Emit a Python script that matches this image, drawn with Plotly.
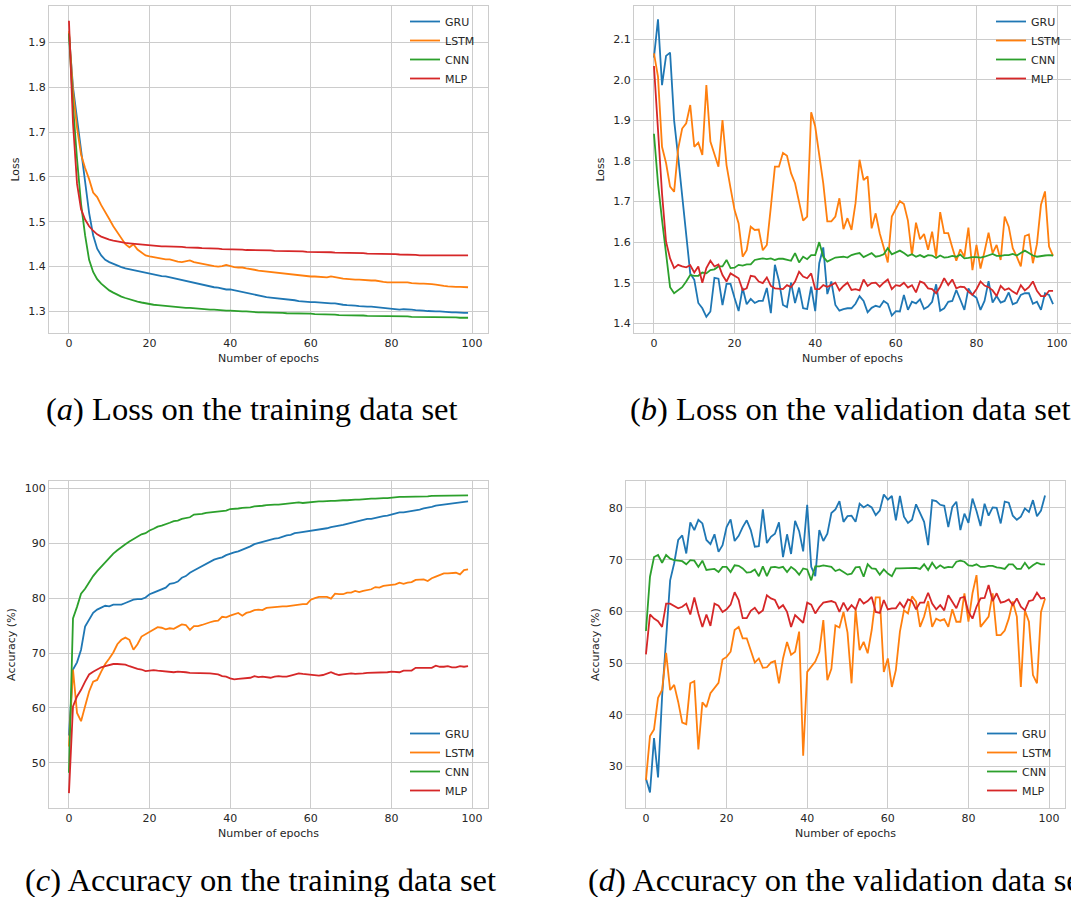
import plotly.graph_objects as go

epochs = list(range(100))
series_names = ["GRU", "LSTM", "CNN", "MLP"]
series_colors = ["#1f77b4", "#ff7f0e", "#2ca02c", "#d62728"]

# (a) training loss
gru_train_loss = [1.920, 1.800, 1.730, 1.660, 1.590, 1.520, 1.470, 1.440, 1.425, 1.415,
                  1.410, 1.406, 1.402, 1.399, 1.396, 1.394, 1.392, 1.390, 1.389, 1.387,
                  1.385, 1.383, 1.381, 1.379, 1.378, 1.376, 1.374, 1.372, 1.370, 1.367,
                  1.365, 1.364, 1.362, 1.360, 1.357, 1.355, 1.354, 1.353, 1.351, 1.349,
                  1.349, 1.347, 1.345, 1.343, 1.341, 1.340, 1.338, 1.336, 1.334, 1.332,
                  1.331, 1.330, 1.330, 1.328, 1.327, 1.326, 1.325, 1.323, 1.322, 1.322,
                  1.321, 1.321, 1.320, 1.319, 1.318, 1.318, 1.318, 1.316, 1.315, 1.314,
                  1.314, 1.313, 1.312, 1.311, 1.311, 1.311, 1.310, 1.309, 1.308, 1.307,
                  1.306, 1.305, 1.304, 1.305, 1.305, 1.304, 1.303, 1.303, 1.302, 1.301,
                  1.300, 1.300, 1.300, 1.299, 1.299, 1.298, 1.298, 1.297, 1.297, 1.297]
lstm_train_loss = [1.925, 1.790, 1.710, 1.650, 1.620, 1.595, 1.565, 1.555, 1.537, 1.520,
                   1.506, 1.490, 1.476, 1.465, 1.450, 1.443, 1.450, 1.438, 1.432, 1.425,
                   1.423, 1.421, 1.419, 1.417, 1.416, 1.416, 1.413, 1.411, 1.410, 1.412,
                   1.414, 1.410, 1.408, 1.406, 1.404, 1.402, 1.401, 1.400, 1.401, 1.404,
                   1.401, 1.399, 1.398, 1.398, 1.396, 1.395, 1.393, 1.391, 1.390, 1.389,
                   1.387, 1.386, 1.386, 1.385, 1.384, 1.382, 1.381, 1.380, 1.379, 1.378,
                   1.378, 1.378, 1.377, 1.377, 1.376, 1.378, 1.377, 1.375, 1.373, 1.372,
                   1.372, 1.371, 1.371, 1.370, 1.370, 1.369, 1.369, 1.367, 1.366, 1.365,
                   1.365, 1.365, 1.366, 1.366, 1.365, 1.363, 1.362, 1.362, 1.362, 1.362,
                   1.361, 1.360, 1.358, 1.357, 1.356, 1.355, 1.355, 1.355, 1.354, 1.354]
cnn_train_loss = [1.920, 1.760, 1.640, 1.540, 1.470, 1.415, 1.388, 1.372, 1.362, 1.354,
                  1.347, 1.342, 1.337, 1.333, 1.330, 1.327, 1.325, 1.322, 1.320, 1.318,
                  1.317, 1.315, 1.314, 1.313, 1.312, 1.311, 1.311, 1.310, 1.309, 1.308,
                  1.308, 1.307, 1.306, 1.305, 1.305, 1.304, 1.304, 1.303, 1.303, 1.302,
                  1.302, 1.301, 1.301, 1.300, 1.300, 1.299, 1.299, 1.298, 1.298, 1.298,
                  1.297, 1.297, 1.297, 1.297, 1.296, 1.296, 1.296, 1.295, 1.295, 1.295,
                  1.295, 1.294, 1.294, 1.294, 1.293, 1.293, 1.293, 1.292, 1.292, 1.292,
                  1.292, 1.291, 1.291, 1.291, 1.290, 1.290, 1.290, 1.290, 1.290, 1.289,
                  1.289, 1.289, 1.289, 1.289, 1.289, 1.288, 1.288, 1.288, 1.288, 1.288,
                  1.288, 1.287, 1.287, 1.287, 1.287, 1.287, 1.287, 1.286, 1.286, 1.286]
mlp_train_loss = [1.948, 1.720, 1.585, 1.528, 1.505, 1.490, 1.480, 1.472, 1.467, 1.463,
                  1.460, 1.458, 1.456, 1.454, 1.453, 1.452, 1.451, 1.450, 1.449, 1.448,
                  1.447, 1.446, 1.446, 1.445, 1.445, 1.445, 1.444, 1.444, 1.444, 1.443,
                  1.443, 1.442, 1.442, 1.441, 1.441, 1.441, 1.440, 1.440, 1.439, 1.439,
                  1.439, 1.438, 1.438, 1.438, 1.437, 1.437, 1.437, 1.436, 1.436, 1.436,
                  1.436, 1.435, 1.435, 1.435, 1.435, 1.434, 1.434, 1.434, 1.434, 1.433,
                  1.433, 1.433, 1.433, 1.432, 1.432, 1.432, 1.431, 1.431, 1.431, 1.431,
                  1.431, 1.430, 1.430, 1.430, 1.429, 1.429, 1.428, 1.428, 1.428, 1.428,
                  1.428, 1.428, 1.427, 1.427, 1.427, 1.426, 1.426, 1.425, 1.425, 1.425,
                  1.425, 1.425, 1.425, 1.425, 1.426, 1.426, 1.426, 1.426, 1.425, 1.425]

# (b) validation loss
gru_val_loss = [2.055, 2.149, 1.987, 2.059, 2.067, 1.900, 1.810, 1.712, 1.613, 1.523,
                1.507, 1.450, 1.437, 1.416, 1.429, 1.512, 1.510, 1.445, 1.497, 1.497,
                1.462, 1.430, 1.487, 1.447, 1.460, 1.450, 1.455, 1.455, 1.487, 1.425,
                1.544, 1.505, 1.445, 1.440, 1.500, 1.450, 1.488, 1.437, 1.435, 1.490,
                1.430, 1.548, 1.587, 1.472, 1.503, 1.445, 1.431, 1.435, 1.437, 1.437,
                1.448, 1.467, 1.455, 1.427, 1.438, 1.443, 1.440, 1.455, 1.448, 1.419,
                1.430, 1.429, 1.470, 1.433, 1.453, 1.449, 1.459, 1.435, 1.441, 1.453,
                1.496, 1.431, 1.437, 1.453, 1.455, 1.482, 1.458, 1.433, 1.486, 1.470,
                1.463, 1.433, 1.455, 1.504, 1.451, 1.467, 1.451, 1.455, 1.476, 1.447,
                1.451, 1.470, 1.474, 1.474, 1.448, 1.453, 1.433, 1.474, 1.470, 1.447]
lstm_val_loss = [2.065, 2.008, 1.835, 1.795, 1.737, 1.724, 1.830, 1.880, 1.893, 1.938,
                 1.835, 1.845, 1.815, 1.987, 1.848, 1.817, 1.786, 1.901, 1.790, 1.733,
                 1.679, 1.646, 1.564, 1.580, 1.638, 1.630, 1.631, 1.580, 1.593, 1.687,
                 1.786, 1.786, 1.820, 1.813, 1.770, 1.745, 1.696, 1.653, 1.663, 1.920,
                 1.885, 1.819, 1.745, 1.651, 1.651, 1.663, 1.708, 1.632, 1.659, 1.630,
                 1.696, 1.803, 1.753, 1.762, 1.634, 1.671, 1.622, 1.587, 1.550, 1.663,
                 1.681, 1.701, 1.694, 1.653, 1.568, 1.648, 1.607, 1.620, 1.581, 1.626,
                 1.564, 1.674, 1.622, 1.622, 1.587, 1.554, 1.582, 1.564, 1.636, 1.531,
                 1.593, 1.535, 1.577, 1.623, 1.573, 1.593, 1.556, 1.663, 1.638, 1.585,
                 1.564, 1.540, 1.615, 1.619, 1.548, 1.595, 1.692, 1.725, 1.589, 1.566]
cnn_val_loss = [1.867, 1.745, 1.655, 1.564, 1.489, 1.474, 1.482, 1.489, 1.503, 1.519,
                1.517, 1.517, 1.525, 1.523, 1.531, 1.533, 1.540, 1.540, 1.556, 1.536,
                1.537, 1.544, 1.542, 1.545, 1.545, 1.556, 1.558, 1.560, 1.558, 1.560,
                1.556, 1.559, 1.559, 1.556, 1.554, 1.573, 1.550, 1.564, 1.558, 1.568,
                1.568, 1.600, 1.564, 1.552, 1.558, 1.562, 1.563, 1.564, 1.562, 1.568,
                1.571, 1.573, 1.563, 1.568, 1.573, 1.564, 1.566, 1.570, 1.585, 1.570,
                1.575, 1.579, 1.573, 1.566, 1.570, 1.564, 1.568, 1.563, 1.568, 1.567,
                1.561, 1.567, 1.562, 1.563, 1.566, 1.564, 1.569, 1.560, 1.561, 1.563,
                1.563, 1.562, 1.564, 1.567, 1.571, 1.566, 1.566, 1.568, 1.568, 1.571,
                1.567, 1.573, 1.579, 1.573, 1.567, 1.564, 1.566, 1.567, 1.568, 1.567]
mlp_val_loss = [2.034, 1.885, 1.720, 1.601, 1.560, 1.536, 1.544, 1.540, 1.538, 1.543,
                1.525, 1.540, 1.500, 1.536, 1.554, 1.540, 1.545, 1.519, 1.503, 1.523,
                1.517, 1.511, 1.482, 1.486, 1.517, 1.515, 1.503, 1.499, 1.513, 1.492,
                1.486, 1.485, 1.484, 1.494, 1.489, 1.503, 1.527, 1.515, 1.511, 1.523,
                1.484, 1.484, 1.494, 1.490, 1.494, 1.500, 1.481, 1.492, 1.500, 1.482,
                1.484, 1.481, 1.508, 1.492, 1.499, 1.500, 1.490, 1.500, 1.508, 1.484,
                1.494, 1.492, 1.500, 1.488, 1.494, 1.476, 1.503, 1.499, 1.486, 1.484,
                1.474, 1.490, 1.511, 1.494, 1.508, 1.486, 1.490, 1.489, 1.478, 1.470,
                1.484, 1.503, 1.493, 1.489, 1.481, 1.467, 1.492, 1.482, 1.486, 1.478,
                1.472, 1.494, 1.481, 1.489, 1.503, 1.480, 1.467, 1.467, 1.480, 1.480]

# (c) training accuracy
gru_train_acc = [55.0, 67.0, 68.3, 70.6, 74.8, 76.0, 77.3, 77.9, 78.2, 78.6,
                 78.5, 78.8, 78.8, 78.8, 79.1, 79.4, 79.7, 79.8, 79.8, 80.1,
                 80.7, 81.0, 81.3, 81.7, 81.9, 82.6, 82.7, 83.0, 83.7, 84.0,
                 84.6, 85.0, 85.4, 85.7, 86.1, 86.5, 87.0, 87.2, 87.4, 87.8,
                 88.1, 88.3, 88.5, 88.8, 89.0, 89.4, 89.8, 90.0, 90.3, 90.5,
                 90.6, 90.8, 90.9, 91.2, 91.4, 91.5, 91.8, 91.9, 92.0, 92.1,
                 92.2, 92.3, 92.4, 92.6, 92.7, 92.9, 93.0, 93.1, 93.3, 93.5,
                 93.7, 93.9, 94.1, 94.3, 94.4, 94.4, 94.6, 94.7, 94.9, 95.0,
                 95.2, 95.4, 95.6, 95.6, 95.7, 95.8, 96.0, 96.1, 96.3, 96.4,
                 96.6, 96.8, 96.9, 97.0, 97.1, 97.2, 97.3, 97.4, 97.5, 97.6]
lstm_train_acc = [53.0, 67.0, 59.1, 57.6, 60.3, 63.0, 64.8, 65.1, 66.6, 68.0,
                  69.0, 70.1, 71.6, 72.4, 72.8, 72.4, 70.6, 71.6, 73.0, 73.4,
                  73.9, 74.3, 74.7, 74.6, 74.3, 74.5, 74.4, 74.8, 75.2, 75.1,
                  74.2, 74.9, 74.9, 75.1, 75.4, 75.6, 75.8, 75.9, 76.6, 76.5,
                  76.8, 77.0, 77.3, 76.8, 77.3, 77.5, 77.8, 77.9, 77.8, 78.2,
                  78.3, 78.3, 78.5, 78.5, 78.5, 78.6, 78.8, 78.9, 78.9, 78.9,
                  79.7, 80.0, 80.2, 80.2, 80.2, 79.9, 80.8, 80.7, 80.7, 81.0,
                  81.0, 81.3, 81.1, 81.3, 81.4, 81.6, 82.0, 81.9, 82.2, 82.3,
                  82.3, 82.5, 82.8, 82.6, 82.8, 82.9, 83.3, 83.4, 83.4, 83.1,
                  83.6, 83.9, 84.2, 84.5, 84.5, 84.6, 84.6, 84.3, 85.1, 85.2]
cnn_train_acc = [48.2, 76.3, 78.4, 80.8, 81.7, 82.9, 84.0, 84.9, 85.7, 86.4,
                 87.3, 88.1, 88.7, 89.3, 89.8, 90.3, 90.7, 91.1, 91.6, 91.8,
                 92.3, 92.6, 93.0, 93.2, 93.4, 93.7, 94.0, 94.1, 94.4, 94.6,
                 94.7, 95.2, 95.2, 95.3, 95.5, 95.6, 95.7, 95.8, 95.9, 95.9,
                 96.2, 96.2, 96.3, 96.4, 96.4, 96.5, 96.7, 96.7, 96.8, 96.9,
                 97.0, 97.0, 97.0, 97.1, 97.1, 97.2, 97.3, 97.4, 97.3, 97.4,
                 97.5, 97.5, 97.6, 97.6, 97.7, 97.7, 97.7, 97.8, 97.8, 97.8,
                 97.9, 97.9, 97.9, 98.0, 98.1, 98.1, 98.1, 98.2, 98.2, 98.2,
                 98.3, 98.3, 98.4, 98.4, 98.4, 98.4, 98.4, 98.4, 98.5, 98.5,
                 98.6, 98.6, 98.6, 98.6, 98.6, 98.6, 98.7, 98.7, 98.7, 98.7]
mlp_train_acc = [44.5, 60.3, 62.1, 63.3, 64.8, 66.1, 66.6, 67.0, 67.4, 67.6,
                 67.8, 68.0, 68.0, 68.0, 67.9, 67.6, 67.3, 67.1, 67.0, 66.7,
                 66.8, 66.9, 66.8, 66.7, 66.6, 66.5, 66.5, 66.6, 66.6, 66.5,
                 66.4, 66.4, 66.4, 66.4, 66.4, 66.3, 66.2, 66.1, 65.8, 65.7,
                 65.4, 65.2, 65.3, 65.4, 65.4, 65.5, 65.8, 65.6, 65.7, 65.6,
                 65.5, 65.7, 65.8, 65.7, 65.7, 65.9, 66.1, 66.3, 66.2, 66.1,
                 66.0, 65.9, 65.9, 66.0, 66.3, 66.5, 66.2, 66.0, 66.1, 66.2,
                 66.3, 66.2, 66.2, 66.3, 66.4, 66.4, 66.4, 66.5, 66.4, 66.5,
                 66.6, 66.6, 66.5, 66.8, 66.8, 66.8, 67.3, 67.3, 67.3, 67.2,
                 67.3, 67.7, 67.5, 67.5, 67.6, 67.4, 67.4, 67.6, 67.5, 67.6]

# (d) validation accuracy
gru_val_acc = [27.7, 25.0, 35.5, 27.9, 43.5, 54.5, 66.0, 69.3, 73.8, 74.7,
               71.2, 77.2, 75.7, 77.7, 77.0, 73.8, 73.0, 74.9, 71.5, 72.8,
               76.3, 77.8, 73.6, 74.6, 76.3, 77.6, 75.7, 72.5, 72.6, 79.7,
               73.2, 74.4, 75.0, 77.2, 70.5, 74.9, 71.1, 77.5, 75.5, 71.6,
               80.6, 68.6, 66.8, 75.7, 73.6, 75.0, 79.0, 79.7, 81.3, 77.3,
               78.4, 78.5, 77.3, 80.8, 80.1, 80.6, 80.1, 78.6, 79.5, 82.6,
               81.6, 82.3, 77.6, 82.3, 78.3, 77.1, 77.7, 80.7, 78.9, 77.3,
               72.8, 81.5, 81.3, 80.6, 80.4, 76.3, 80.2, 81.2, 75.7, 78.9,
               77.1, 81.8, 79.4, 76.5, 80.8, 78.5, 80.1, 80.0, 77.0, 81.2,
               81.0, 78.5, 77.7, 78.3, 79.9, 79.2, 81.5, 78.4, 79.5, 82.4]
lstm_val_acc = [27.4, 35.9, 37.2, 43.3, 44.8, 52.0, 44.8, 45.8, 42.5, 38.5,
                38.2, 46.1, 46.5, 33.3, 42.4, 41.5, 44.2, 45.1, 46.2, 50.7,
                51.2, 52.2, 56.4, 57.0, 54.8, 54.8, 52.2, 50.1, 50.9, 49.1,
                49.2, 50.1, 50.4, 46.1, 50.9, 54.1, 51.6, 52.2, 56.1, 32.1,
                48.3, 49.2, 50.3, 52.2, 58.3, 46.7, 48.9, 57.3, 56.9, 59.9,
                55.9, 46.1, 60.4, 52.5, 54.1, 51.9, 56.4, 62.7, 62.7, 48.3,
                50.9, 45.4, 48.7, 56.1, 60.2, 59.6, 62.9, 61.9, 57.0, 59.0,
                62.0, 57.0, 58.6, 58.2, 58.5, 57.0, 60.4, 58.0, 58.0, 63.5,
                58.0, 63.5, 67.0, 57.0, 58.0, 59.0, 63.5, 55.4, 55.4, 56.3,
                58.6, 61.9, 59.0, 45.4, 60.2, 58.0, 47.7, 46.1, 59.9, 62.5]
cnn_val_acc = [56.2, 66.7, 70.5, 70.9, 69.4, 70.9, 70.2, 69.9, 69.8, 69.7,
               69.1, 69.9, 69.8, 68.6, 69.8, 68.0, 68.1, 68.2, 67.6, 68.6,
               68.6, 67.6, 68.9, 68.8, 68.3, 67.5, 67.6, 68.1, 66.8, 68.7,
               66.8, 68.5, 68.6, 68.4, 68.6, 67.6, 68.6, 68.0, 67.1, 68.3,
               68.1, 66.0, 68.7, 68.7, 68.9, 68.7, 68.6, 67.8, 68.1, 67.6,
               67.1, 67.3, 68.5, 68.6, 66.7, 69.1, 68.3, 68.2, 67.1, 68.1,
               67.3, 66.8, 68.3, 68.3, 68.3, 68.4, 68.4, 68.4, 68.2, 69.1,
               68.0, 69.4, 68.3, 68.9, 68.4, 68.6, 68.5, 69.6, 69.8, 69.6,
               68.9, 68.8, 69.1, 68.6, 68.6, 68.8, 68.8, 68.5, 68.4, 68.2,
               69.1, 69.1, 68.2, 68.2, 69.4, 68.3, 68.9, 69.4, 69.1, 69.1]
mlp_val_acc = [51.7, 59.4, 58.6, 58.1, 57.0, 61.5, 61.5, 61.1, 60.6, 60.9,
               61.5, 59.4, 62.7, 59.6, 57.0, 59.4, 57.2, 61.5, 61.1, 59.9,
               60.4, 61.3, 63.7, 62.2, 58.7, 58.7, 60.1, 60.7, 59.6, 60.2,
               63.1, 62.5, 62.2, 60.6, 61.2, 59.9, 57.0, 59.3, 58.6, 57.8,
               61.7, 61.3, 59.6, 60.8, 61.7, 61.9, 62.0, 61.7, 59.9, 61.7,
               60.2, 61.2, 60.4, 62.5, 61.5, 62.0, 62.8, 59.9, 59.7, 62.2,
               60.4, 60.6, 60.6, 61.7, 60.7, 62.3, 62.0, 60.4, 61.7, 61.7,
               63.6, 61.5, 60.4, 61.2, 60.2, 63.1, 61.9, 60.6, 62.6, 62.8,
               59.9, 58.6, 60.9, 62.5, 62.6, 65.1, 62.0, 63.5, 61.7, 61.9,
               62.3, 61.2, 62.5, 60.9, 60.2, 62.0, 62.2, 63.6, 62.5, 62.6]

panels = [
    ([gru_train_loss, lstm_train_loss, cnn_train_loss, mlp_train_loss], "x", "y", "legend"),
    ([gru_val_loss, lstm_val_loss, cnn_val_loss, mlp_val_loss], "x2", "y2", "legend2"),
    ([gru_train_acc, lstm_train_acc, cnn_train_acc, mlp_train_acc], "x3", "y3", "legend3"),
    ([gru_val_acc, lstm_val_acc, cnn_val_acc, mlp_val_acc], "x4", "y4", "legend4"),
]

fig = go.Figure()
for data, xa, ya, lg in panels:
    for name, color, vals in zip(series_names, series_colors, data):
        fig.add_trace(go.Scatter(x=epochs, y=vals, mode="lines", name=name,
                                 line=dict(color=color, width=1.8),
                                 xaxis=xa, yaxis=ya, legend=lg))

W, H = 1071, 897
GRID = "#cccccc"
TXT = "#262626"
tickfont = dict(family="DejaVu Sans", size=11, color=TXT)
titlefont = dict(family="DejaVu Sans", size=11, color=TXT)

def xdom(l, r):
    return [l / W, min(r / W, 1.0)]

def ydom(t, b):
    return [(H - b) / H, (H - t) / H]

def xaxis(dom, anchor, rng):
    return dict(domain=dom, anchor=anchor, range=rng, tickvals=[0, 20, 40, 60, 80, 100],
                showgrid=True, gridcolor=GRID, gridwidth=1, zeroline=False,
                showline=True, linecolor=GRID, linewidth=1.3, mirror=True,
                ticks="", tickfont=tickfont, automargin=False,
                title=dict(text="Number of epochs", font=titlefont, standoff=4))

def yaxis(dom, anchor, rng, tv, ttl, fmt):
    return dict(domain=dom, anchor=anchor, range=rng, tickvals=tv, tickformat=fmt,
                showgrid=True, gridcolor=GRID, gridwidth=1, zeroline=False,
                showline=True, linecolor=GRID, linewidth=1.3, mirror=True,
                ticks="", tickfont=tickfont, automargin=False,
                title=dict(text=ttl, font=titlefont, standoff=6))

loss_a_ticks = [1.3, 1.4, 1.5, 1.6, 1.7, 1.8, 1.9]
loss_b_ticks = [1.4, 1.5, 1.6, 1.7, 1.8, 1.9, 2.0, 2.1]
acc_c_ticks = [50, 60, 70, 80, 90, 100]
acc_d_ticks = [30, 40, 50, 60, 70, 80]

legend_style = dict(bgcolor="rgba(0,0,0,0)", borderwidth=0,
                    font=dict(family="DejaVu Sans", size=11, color=TXT),
                    xanchor="right", tracegroupgap=0)

fig.update_layout(
    width=W, height=H,
    margin=dict(l=0, r=0, t=0, b=0, autoexpand=False),
    paper_bgcolor="white", plot_bgcolor="white",
    xaxis=xaxis(xdom(49, 488), "y", [-4.95, 103.95]),
    yaxis=yaxis(ydom(6, 333), "x", [1.252, 1.981], loss_a_ticks, "Loss", ".1f"),
    xaxis2=xaxis(xdom(634, 1071), "y2", [-4.95, 103.45]),
    yaxis2=yaxis(ydom(6, 333), "x2", [1.376, 2.182], loss_b_ticks, "Loss", ".1f"),
    xaxis3=xaxis(xdom(49, 488), "y3", [-4.95, 103.95]),
    yaxis3=yaxis(ydom(481, 808), "x3", [41.8, 101.3], acc_c_ticks, "Accuracy (%)", "d"),
    xaxis4=xaxis(xdom(626, 1065), "y4", [-4.95, 103.95]),
    yaxis4=yaxis(ydom(481, 808), "x4", [22.0, 85.2], acc_d_ticks, "Accuracy (%)", "d"),
    legend=dict(x=480 / W, y=(H - 7) / H, yanchor="top", **legend_style),
    legend2=dict(x=1066 / W, y=(H - 7) / H, yanchor="top", **legend_style),
    legend3=dict(x=480 / W, y=(H - 805) / H, yanchor="bottom", **legend_style),
    legend4=dict(x=1057 / W, y=(H - 805) / H, yanchor="bottom", **legend_style),
    showlegend=True,
)

capfont = dict(family="Liberation Serif", size=32.5, color="black")
captions = [
    ("(<i>a</i>) Loss on the training data set", 252, 409, "center"),
    ("(<i>b</i>) Loss on the validation data set", 628, 409, "left"),
    ("(<i>c</i>) Accuracy on the training data set", 260, 880, "center"),
    ("(<i>d</i>) Accuracy on the validation data set", 586, 880, "left"),
]
for text, cx, cy, anchor in captions:
    fig.add_annotation(text=text, x=cx / W, y=(H - cy) / H, xref="paper", yref="paper",
                       xanchor=anchor, yanchor="middle", showarrow=False, font=capfont)

fig.write_html("out.html", config={"displayModeBar": False},
               post_script="document.body.style.margin='0';document.body.style.overflow='hidden';")
